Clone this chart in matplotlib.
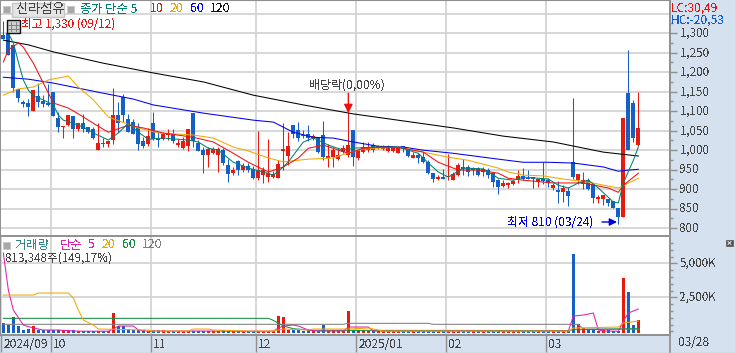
#!/usr/bin/env python3
import numpy as np
import matplotlib as mpl
mpl.use('Agg')
import matplotlib.pyplot as plt
from matplotlib.patches import Rectangle
from matplotlib.transforms import ScaledTranslation

plt.rcParams['font.family'] = ['Noto Sans CJK KR', 'DejaVu Sans']
plt.rcParams['text.antialiased'] = False

# daily candles, 2024/09 .. 03/28
opens = [1295,1300,1269,1157,1123,1120,1100,1139,1126,1120,1149,1082,1059,1064,1087,1054,1069,1059,1054,1000,
         1018,1015,1026,1090,1136,1079,1072,1059,1023,1015,1069,1028,1028,1038,1041,1013,1005,1010,1095,1018,
         1000,987,992,987,1000,962,941,972,949,959,951,928,936,931,931,928,997,985,1064,1051,
         1038,1041,1031,1033,1038,980,982,977,995,987,1051,980,995,1000,1013,1005,1003,997,997,992,
         1010,1000,980,987,982,969,941,926,931,931,923,936,956,956,949,954,944,949,941,923,
         908,910,913,923,933,928,931,918,926,923,903,897,892,895,969,923,913,923,913,874,
         874,874,869,851,828,1146,1120,1013]
highs = [1330,1300,1269,1157,1128,1131,1154,1172,1141,1169,1149,1097,1062,1090,1087,1069,1092,1059,1059,1069,
         1031,1023,1159,1123,1144,1092,1079,1069,1033,1056,1097,1046,1041,1054,1054,1028,1033,1054,1095,1026,
         1008,1008,1008,1008,1005,977,956,974,967,967,959,1049,956,1028,946,974,1069,1046,1064,1072,
         1051,1064,1041,1033,1074,1015,1008,1005,1013,1097,1051,1000,1021,1021,1018,1013,1013,1013,1010,1010,
         1010,1003,995,992,995,974,941,936,951,990,944,967,977,962,956,956,956,954,944,926,
         923,918,923,949,954,949,931,926,969,928,915,921,910,905,1134,938,944,928,913,885,
         885,874,869,851,1082,1256,1128,1149]
lows = [1285,1244,1149,1123,1110,1087,1100,1110,1110,1113,1087,1046,1031,1062,1031,1049,1046,1044,1028,1000,
        1008,1008,1015,1046,1072,1046,1041,1000,1005,1010,1026,1008,1026,1026,1018,1008,1003,997,1008,997,
        941,956,990,944,962,918,936,936,944,944,926,923,915,918,928,928,949,962,1031,1023,
        1031,1023,1026,992,974,956,956,974,992,982,959,974,992,995,995,1003,1000,995,995,992,
        995,982,980,967,967,938,918,923,926,923,923,933,936,933,936,933,933,928,905,887,
        905,903,910,915,923,926,903,905,913,905,897,864,867,856,926,913,900,897,864,864,
        859,856,851,810,828,1000,1021,1010]
closes = [1285,1244,1159,1133,1118,1110,1154,1123,1118,1115,1087,1059,1062,1090,1054,1069,1054,1046,1031,1018,
          1015,1023,1090,1069,1090,1046,1041,1015,1010,1036,1028,1026,1041,1044,1023,1018,1023,1054,1023,997,
          987,1003,1003,1003,967,938,949,949,959,949,928,949,949,941,939,964,1003,1010,1041,1031,
          1036,1031,1036,995,982,985,1000,987,1005,1013,982,1000,1008,1008,1000,1010,1010,1010,1005,1005,
          1003,985,987,980,969,941,926,931,926,933,939,962,951,944,954,936,951,936,918,905,
          915,915,921,933,926,926,926,926,921,915,910,892,903,882,931,938,923,900,877,879,
          885,864,851,828,1082,1000,1031,1056]
volumes = [610,463,1051,390,96,169,390,96,96,96,96,96,96,96,96,22,22,22,22,22,
           22,22,1345,390,390,169,96,96,96,22,96,96,96,22,22,22,22,22,22,22,
           22,22,22,22,96,22,22,22,22,22,22,22,22,22,22,1125,1051,96,96,96,
           22,96,22,22,463,22,96,96,22,1492,96,96,96,10,22,10,10,10,10,10,
           10,10,10,22,10,22,10,10,10,10,10,10,10,10,10,10,10,10,22,10,
           10,10,10,10,10,10,10,10,10,10,10,10,10,10,5682,537,243,96,96,22,
           96,96,22,22,3918,2889,463,813]

# moving averages at the places they bend
ma5_x = [1,2,3,4,5,6,8,10,11,12,14,16,18,21,23,25,27,29,32,37,39,41,43,46,49,52,54,56,57,60,62,63,65,68,70,74,79,83,85,87,89,92,96,99,102,104,109,111,113,115,117,119,122,123,124,126,127]
ma5_y = [1300,1275,1226,1180,1154,1139,1129,1116,1090,1077,1069,1059,1044,1026,1044,1069,1046,1028,1031,1026,1021,1005,1000,969,954,944,936,957,970,1021,1031,1026,1013,1000,1005,1008,1008,992,967,944,931,954,952,928,923,931,926,910,903,916,923,903,867,865,916,974,1008]
ma10_x = [0,1,3,4,6,8,10,13,15,18,21,25,28,32,38,42,46,49,53,56,59,61,64,69,72,76,80,84,87,91,95,99,101,104,110,116,121,123,124,127]
ma10_y = [1226,1257,1275,1264,1223,1172,1121,1108,1093,1069,1046,1064,1057,1044,1033,1021,992,969,944,957,980,1005,1013,992,1005,1008,1005,995,969,949,949,941,928,923,916,916,903,892,910,941]
ma20_x = [0,3,6,9,13,15,18,21,27,31,38,42,46,49,53,56,61,66,69,72,79,84,89,93,99,101,104,108,112,117,123,127]
ma20_y = [1141,1157,1162,1180,1190,1162,1129,1085,1057,1044,1039,1031,1008,998,980,970,977,980,993,1003,1008,995,982,974,954,944,936,934,926,918,903,928]
ma60_x = [0,5,10,20,26,30,40,50,54,58,62,66,70,75,80,84,90,99,104,109,114,120,123,125,127]
ma60_y = [1187,1182,1172,1146,1131,1116,1095,1077,1072,1046,1033,1031,1021,1010,1008,1000,992,977,969,969,967,957,946,949,951]
ma120_x = [0,5,10,20,30,40,50,60,70,80,90,100,110,115,120,127]
ma120_y = [1282,1270,1252,1223,1198,1175,1141,1116,1093,1075,1057,1036,1021,1008,995,985]

vol5_x = [0,1,2,4,6,8,11,15,21,22,23,26,27,29,31,40,49,54,55,56,58,59,61,63,68,69,73,74,76,88,89,93,99,107,108,113,114,116,118,119,120,123,124,125,126,127]
vol5_y = [5755,3035,1565,463,243,96,96,10,10,169,390,390,96,10,22,22,10,10,243,390,463,390,96,22,22,316,316,22,10,10,22,22,10,10,22,22,1125,1198,1345,96,22,10,757,1345,1492,1639]
vol20_x = [0,6,7,13,14,15,16,18,19,29,30,37,38,41,42,49,54,55,56,61,62,69,73,75,76,113,114,123,124,127]
vol20_y = [2668,2668,2815,2815,2448,1565,830,463,169,96,22,22,169,169,96,20,22,96,169,96,169,169,243,96,20,20,243,316,610,757]
vol60_x = [0,53,54,56,57,58,62,113,114,127]
vol60_y = [955,955,808,390,294,191,74,59,118,191]
vol120_x = [0,68,69,85,86,115,116,127]
vol120_y = [515,515,588,588,515,515,169,169]

price_ticks = [800,850,900,950,1000,1050,1100,1150,1200,1250,1300]
price_labels = ['800','850','900','950','1,000','1,050','1,100','1,150','1,200','1,250','1,300']
vol_ticks = [2500,5000]
vol_labels = ['2,500K','5,000K']
month_pos = [-0.45,9.6,29.6,50.6,70.6,88.6,108.6]
month_labels = ['2024/09','10','11','12','2025/01','02','03']

RED = '#e81a10'
BLUE = '#1560c8'
GRID = '#d4d4d4'
EDGE = '#8f8f8f'
PANEL = '#d6e1ef'
TEXT = '#444444'
LW = 0.75
W, H = 736, 353

fig = plt.figure(figsize=(W/100, H/100), dpi=100, facecolor=PANEL)
ax = fig.add_axes([0, (H-236)/H, 670/W, 236/H])
vol = fig.add_axes([0, (H-335)/H, 670/W, 98/H])
ui = fig.add_axes([0, 0, 1, 1], zorder=5)
ui.set_xlim(0, W)
ui.set_ylim(H, 0)
ui.axis('off')

x = np.arange(len(closes))
o, h, l, c = map(np.array, (opens, highs, lows, closes))
up = c >= o
colors = np.where(up, RED, BLUE)

for a in (ax, vol):
    a.set_xlim(-2/3, 133.33)
    a.yaxis.tick_right()
    a.set_axisbelow(True)
    a.grid(True, color=GRID, lw=1.3)
    for s in a.spines.values():
        s.set_color(EDGE)
        s.set_linewidth(1.4)
    a.tick_params(axis='y', which='major', length=5, width=1, color=EDGE, labelcolor=TEXT, labelsize=8.4, pad=2)
    a.tick_params(axis='y', which='minor', length=2.5, width=1, color=EDGE)
vol.spines['top'].set_visible(False)
ax.spines['top'].set_linewidth(0.8)

# price panel
ax.set_ylim(780, 1385)
ax.set_xticks(month_pos[1:])
ax.tick_params(axis='x', length=0, labelbottom=False)
ax.set_yticks(price_ticks, price_labels)
ax.set_yticks(np.arange(825, 1350, 50), minor=True)
ax.axhline(1350, color=GRID, lw=1.3, zorder=0)
ax.vlines(x, l, h, colors=colors, lw=0.75, zorder=2, snap=True)
ax.bar(x, np.maximum(np.abs(c-o), 2), bottom=np.minimum(o, c), width=0.8, color=colors, lw=0, zorder=2)
ax.plot(ma120_x, ma120_y, color='black', lw=LW, zorder=3)
ax.plot(ma60_x, ma60_y, color='#0000f0', lw=LW, zorder=3)
ax.plot(ma20_x, ma20_y, color='#f0a800', lw=LW, zorder=3)
ax.plot(ma10_x, ma10_y, color='#f01010', lw=LW, zorder=3)
ax.plot(ma5_x, ma5_y, color='#008070', lw=LW, zorder=3)
ax.annotate('', xy=(69, 1095), xytext=(69, 1146),
            arrowprops=dict(arrowstyle='-|>', color='#f01010', lw=1, mutation_scale=13, shrinkA=0, shrinkB=0), zorder=4)

# volume panel
vol.set_ylim(-270, 6935)
vol.set_yticks(vol_ticks, vol_labels)
vol.set_yticks([t for t in range(0, 7000, 500) if t not in vol_ticks], minor=True)
vol.bar(x, np.array(volumes)+125, bottom=-125, width=0.65, color=colors, lw=0, zorder=2)
vol.plot(vol120_x, vol120_y, color='#808080', lw=LW, zorder=3)
vol.plot(vol60_x, vol60_y, color='#109040', lw=LW, zorder=3)
vol.plot(vol5_x, vol5_y, color='#e020b0', lw=LW, zorder=3)
vol.plot(vol20_x, vol20_y, color='#f0a800', lw=LW, zorder=3)
vol.set_xticks(month_pos, month_labels, ha='left', color=TEXT, fontsize=8.6)
vol.tick_params(axis='x', length=12, width=1, color=EDGE, pad=-10)
for lab in vol.get_xticklabels():
    lab.set_transform(lab.get_transform() + ScaledTranslation(2/100, 0, fig.dpi_scale_trans))
# the CJK font sits a little low beside the tick marks
for a in (ax, vol):
    for lab in a.get_yticklabels():
        lab.set_transform(lab.get_transform() + ScaledTranslation(0, 1.5/100, fig.dpi_scale_trans))

def label(px, py, s, color=TEXT, size=8.2, **kw):
    ui.text(px, py, s, color=color, fontsize=size, va='center', ha='left', **kw)

def square(px, py):
    ui.add_patch(Rectangle((px-3.5, py-3.5), 7, 7, fc='#a8a8a8', ec='#c8c8c8', lw=0.7))

# top legend
square(6, 9)
ui.add_patch(Rectangle((12, 3), 52, 14, fc='#e4e4e4', ec='#c4c4c4', lw=1))
label(16, 9.5, '신라섬유', size=9.5)
square(70, 9)
label(80, 9, '종가 단순 5', '#008070', 8.8)
label(150, 9, '10', '#f01010', 8.8)
label(170, 9, '20', '#f0a800', 8.8)
label(190, 9, '60', '#0000f0', 8.8)
label(210, 9, '120', '#111111', 8.8)

# table icon
ui.add_patch(Rectangle((7, 20), 13, 13, fc='#d0d0d0', ec='#111111', lw=1))
ui.plot([10.5, 10.5], [22, 31], color='#777777', lw=0.6)
ui.plot([15.5, 15.5], [22, 31], color='#777777', lw=0.6)
ui.plot([8, 19], [25, 25], color='#777777', lw=0.6)
ui.plot([8, 19], [29, 29], color='#777777', lw=0.6)

label(21, 24, '최고 1,330 (09/12)', '#f01010', 8.4)
label(309, 85, '배당락(0,00%)', TEXT, 8.6)
label(507, 222, '최저 810 (03/24)', '#0000e0', 8.6)
ui.annotate('', xy=(617, 222), xytext=(602, 222),
            arrowprops=dict(arrowstyle='-|>', color='#0000e0', lw=1, mutation_scale=11, shrinkA=0, shrinkB=0))

label(671, 8, 'LC:30,49', '#f01010', 8.6)
label(671, 20, 'HC:-20,53', BLUE, 8.6)

# volume legend
square(6, 245)
label(15, 245, '거래량', '#308888', 8.8)
label(60, 245, '단순', '#e020b0', 8.8)
label(88, 245, '5', '#e020b0', 8.8)
label(102, 245, '20', '#f0a800', 8.8)
label(122, 245, '60', '#109040', 8.8)
label(142, 245, '120', '#808080', 8.8)
label(5, 258, '813,348주(149,17%)', TEXT, 8.4)

label(678, 343, '03/28', TEXT, 8.6)
ui.plot([670, 670], [335, 352], color=EDGE, lw=1.2)
ui.add_patch(Rectangle((726, 240), 7, 6, fc='#555555', ec='#555555', lw=0.5))
ui.plot([728, 731], [241.5, 244.5], color='white', lw=0.6)
ui.plot([728, 731], [244.5, 241.5], color='white', lw=0.6)
ui.plot([0, W], [352.5, 352.5], color=EDGE, lw=0.8)
ui.plot([735.5, 735.5], [0, H], color=EDGE, lw=0.8)

plt.savefig('out.png', dpi=100, facecolor=fig.get_facecolor())
plt.close()
